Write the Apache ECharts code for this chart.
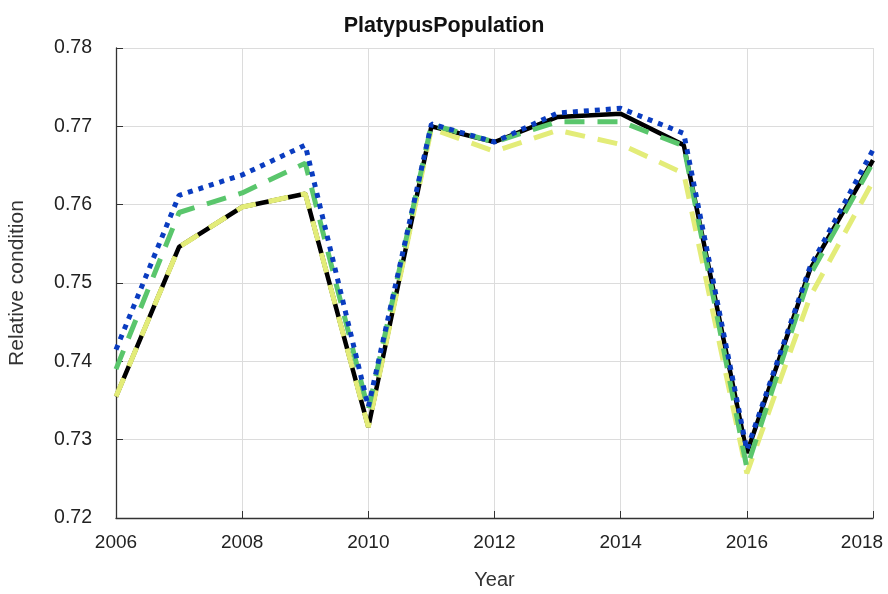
<!DOCTYPE html>
<html>
<head>
<meta charset="utf-8">
<script src="https://cdn.jsdelivr.net/npm/echarts@6/dist/echarts.min.js"></script>
<style>html,body{margin:0;padding:0;background:#fff}#c{width:888px;height:594px}</style>
</head>
<body>
<div id="c"></div>
<script>
const years = [2006,2007,2008,2009,2010,2011,2012,2013,2014,2015,2016,2017,2018];
const blackSeries  = [0.7355,0.7546,0.7597,0.7614,0.7316,0.7700,0.7680,0.7712,0.7716,0.7676,0.7283,0.7517,0.7657];
const yellowSeries = [0.7355,0.7546,0.7597,0.7614,0.7316,0.7697,0.7668,0.7695,0.7677,0.7640,0.7257,0.7482,0.7630];
const greenSeries  = [0.7390,0.7590,0.7615,0.7653,0.7338,0.7702,0.7680,0.7706,0.7706,0.7675,0.7264,0.7510,0.7654];
const blueSeries   = [0.7415,0.7612,0.7638,0.7676,0.7342,0.7703,0.7680,0.7717,0.7723,0.7691,0.7287,0.7520,0.7670];
const yTicks = [0.72,0.73,0.74,0.75,0.76,0.77,0.78];

const pair = arr => years.map((y,i)=>[y,arr[i]]);
const font = 'Liberation Sans, Arial, sans-serif';
const lastYear = years[years.length-1];
const chart = echarts.init(document.getElementById('c'), null, {renderer:'canvas'});
chart.setOption({
  animation:false,
  backgroundColor:'#fff',
  title:{text:'PlatypusPopulation', left:'center', top:10,
    textStyle:{fontFamily:font, fontSize:21.5, fontWeight:'bold', color:'#111'}},
  grid:{left:116, right:15, top:48, bottom:76, containLabel:false, outerBoundsMode:'none'},
  xAxis:{type:'value', min:2006, max:2018, interval:2,
    name:'Year', nameLocation:'middle', nameGap:52,
    nameTextStyle:{fontFamily:font, fontSize:20, color:'#333'},
    axisLine:{show:true, onZero:false, lineStyle:{color:'#333', width:1.3}},
    axisTick:{show:true, inside:true, length:7, lineStyle:{color:'#333'}},
    axisLabel:{fontFamily:font, fontSize:19, color:'#222', margin:15,
      formatter:v=> v===lastYear ? '{r|'+v+'}' : String(v),
      rich:{r:{fontFamily:font, fontSize:19, color:'#222', padding:[0,22,0,0]}}},
    splitLine:{show:true, lineStyle:{color:'#dcdcdc', width:1}}},
  yAxis:{type:'value', min:yTicks[0], max:yTicks[yTicks.length-1], interval:0.01,
    name:'Relative condition', nameLocation:'middle', nameGap:88,
    nameTextStyle:{fontFamily:font, fontSize:21, color:'#333'},
    axisLine:{show:true, lineStyle:{color:'#333', width:1.3}},
    axisTick:{show:true, inside:true, length:7, lineStyle:{color:'#333'}},
    axisLabel:{fontFamily:font, fontSize:19.5, color:'#222', margin:24, formatter:v=>v.toFixed(2)},
    splitLine:{show:true, lineStyle:{color:'#dcdcdc', width:1}}},
  series:[
    {type:'line', data:pair(blackSeries), showSymbol:false, z:2,
      lineStyle:{color:'#000', width:4.5, type:'solid'}},
    {type:'line', data:pair(yellowSeries), showSymbol:false, z:3,
      lineStyle:{color:'#e3ec78', width:5, type:[20,13]}},
    {type:'line', data:pair(greenSeries), showSymbol:false, z:4,
      lineStyle:{color:'#5ac66c', width:5, type:[20,13]}},
    {type:'line', data:pair(blueSeries), showSymbol:false, z:5,
      lineStyle:{color:'#0a3cc0', width:5, type:[5,6]}}
  ]
});
</script>
</body>
</html>
